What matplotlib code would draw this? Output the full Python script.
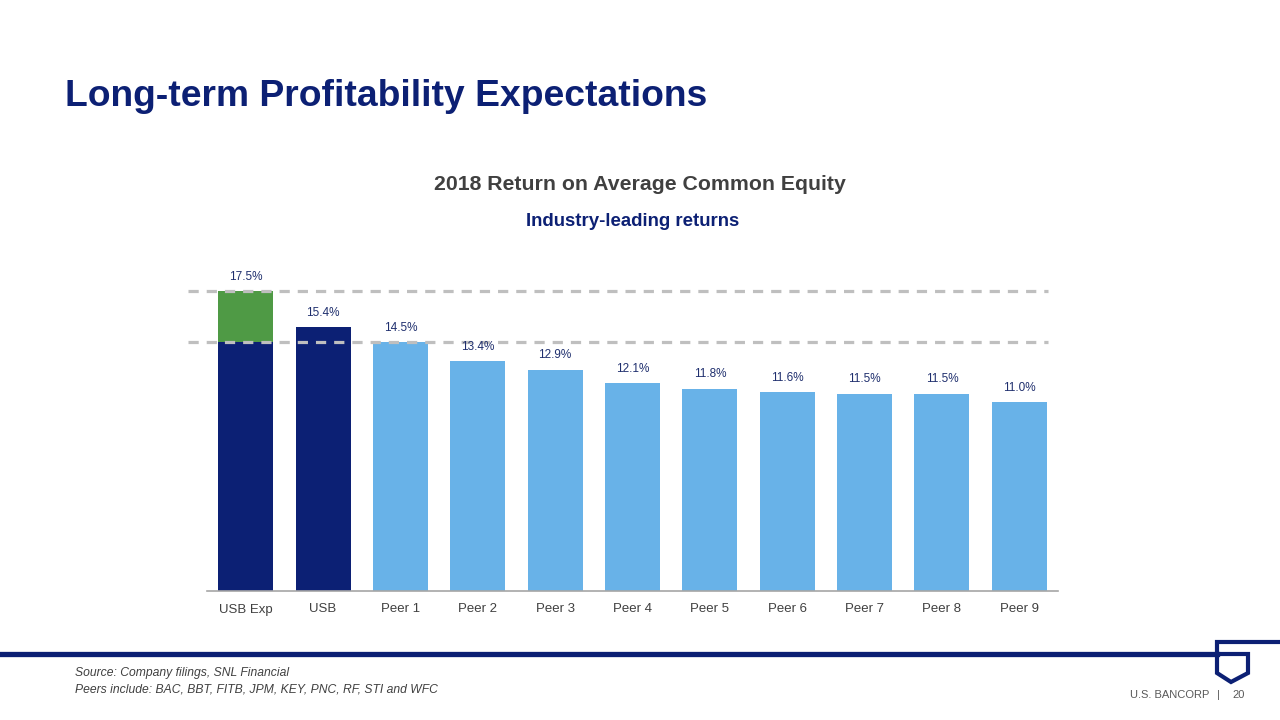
import matplotlib.pyplot as plt
from matplotlib.lines import Line2D

plt.rcParams['font.family'] = ['Liberation Sans', 'DejaVu Sans']

# data
categories = ['USB Exp', 'USB', 'Peer 1', 'Peer 2', 'Peer 3', 'Peer 4',
              'Peer 5', 'Peer 6', 'Peer 7', 'Peer 8', 'Peer 9']
roe = [17.5, 15.4, 14.5, 13.4, 12.9, 12.1, 11.8, 11.6, 11.5, 11.5, 11.0]
usb_exp_base = 14.5
usb_exp_add = 3.0
ref_lines = [17.5, 14.5]

navy = '#0C2074'
light_blue = '#68B2E8'
green = '#4F9A45'
label_col = '#1F2F6E'

fig = plt.figure(figsize=(12.8, 7.2), dpi=100)

# chart axes in pixel units
W, H = 1280, 720
left, right, bottom, top = 207, 1058, 591, 248
ax = fig.add_axes([left / W, 1 - bottom / H, (right - left) / W, (bottom - top) / H])

x = list(range(len(categories)))
colors = [navy, navy] + [light_blue] * (len(categories) - 2)
heights = [usb_exp_base] + roe[1:]
ax.bar(x, heights, width=0.71, color=colors, zorder=2)
ax.bar([0], [usb_exp_add], bottom=[usb_exp_base], width=0.71, color=green, zorder=2)

# dashed reference lines
for v in ref_lines:
    ax.plot([-0.745, 10.37], [v, v], color='#BFBFBF', lw=2.3, ls=(0, (3.2, 2.5)),
            clip_on=False, zorder=3)

for xi, v in zip(x, roe):
    ax.annotate(f'{v:.1f}%', (xi, v), xytext=(0, 6), textcoords='offset points',
                ha='center', va='bottom', fontsize=8.5, color=label_col)

ax.set_xlim(-0.5, 10.5)
ax.set_ylim(0, 20)
ax.set_xticks(x)
ax.set_xticklabels(categories, fontsize=9.5, color='#404040')
ax.tick_params(axis='x', length=0, pad=9)
ax.set_yticks([])
for s in ['top', 'right', 'left']:
    ax.spines[s].set_visible(False)
ax.spines['bottom'].set_color('#A6A6A6')
ax.spines['bottom'].set_linewidth(1.2)

# titles
fig.text(65 / W, 1 - 96 / H, 'Long-term Profitability Expectations', fontsize=26.8,
         fontweight='bold', color=navy, va='center', ha='left')
fig.text(640 / W, 1 - 184 / H, '2018 Return on Average Common Equity', fontsize=15.3,
         fontweight='bold', color='#404040', va='center', ha='center')
fig.text(633 / W, 1 - 221 / H, 'Industry-leading returns', fontsize=13.4,
         fontweight='bold', color=navy, va='center', ha='center')

# footer
fig.text(75 / W, 1 - 673 / H, 'Source: Company filings, SNL Financial', fontsize=8.7,
         style='italic', color='#404040', va='center')
fig.text(75 / W, 1 - 690 / H, 'Peers include: BAC, BBT, FITB, JPM, KEY, PNC, RF, STI and WFC',
         fontsize=8.7, style='italic', color='#404040', va='center')
fig.text(1130 / W, 1 - 695 / H, 'U.S. BANCORP', fontsize=8, color='#595959', va='center')
fig.text(1218 / W, 1 - 695 / H, '|', fontsize=8, color='#595959', va='center', ha='center')
fig.text(1232 / W, 1 - 695 / H, '20', fontsize=8, color='#595959', va='center')


def fx(px):
    return px / W


def fy(py):
    return 1 - py / H


fig.add_artist(Line2D([fx(0), fx(1217)], [fy(654), fy(654)], color=navy, lw=3.8))
# logo outline
logo_x = [1280, 1217, 1217, 1231, 1248, 1248, 1217]
logo_y = [642, 642, 673, 682, 673, 654, 654]
fig.add_artist(Line2D([fx(v) for v in logo_x], [fy(v) for v in logo_y],
                      color=navy, lw=3, solid_joinstyle='miter'))

fig.savefig('out.png', dpi=100)
